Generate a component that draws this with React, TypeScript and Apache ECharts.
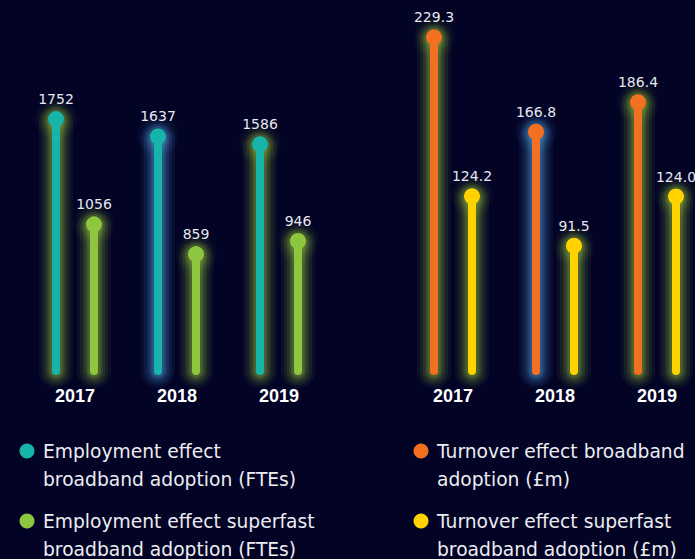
import React, { useEffect, useRef } from "react";
import * as echarts from "echarts";

const years = ["2017", "2018", "2019"];
const employmentBroadband = [1752, 1637, 1586];
const employmentSuperfast = [1056, 859, 946];
const turnoverBroadband = [229.3, 166.8, 186.4];
const turnoverSuperfast = [124.2, 91.5, 124.0];

const legendEmploymentBroadband = "Employment effect\nbroadband adoption (FTEs)";
const legendEmploymentSuperfast = "Employment effect superfast\nbroadband adoption (FTEs)";
const legendTurnoverBroadband = "Turnover effect broadband\nadoption (£m)";
const legendTurnoverSuperfast = "Turnover effect superfast\nbroadband adoption (£m)";

const TEAL = "#17b4aa";
const LIME = "#8dc63f";
const ORANGE = "#f37021";
const YELLOW = "#ffd200";
const BG = "#020325";
const GREEN_GLOW = "150,195,60";
const BLUE_GLOW = "85,165,230";
// glow per category for the broadband series (blue in 2018), superfast always green
const broadbandGlow = [GREEN_GLOW, BLUE_GLOW, GREEN_GLOW];
const superfastGlow = [GREEN_GLOW, GREEN_GLOW, GREEN_GLOW];
const glowLayers = [
  { pad: 13, a: 0.07 },
  { pad: 10, a: 0.09 },
  { pad: 7, a: 0.12 },
  { pad: 4.5, a: 0.16 },
  { pad: 2.5, a: 0.2 },
];

function makeSeries(name: string, values: number[], gridIndex: number, color: string, offset: number, decimals: number, glows: string[]) {
  return {
    name,
    type: "custom",
    xAxisIndex: gridIndex,
    yAxisIndex: gridIndex,
    clip: false,
    data: values.map((v, i) => [i, v]),
    renderItem: (params: any, api: any) => {
      const idx = api.value(0);
      const v = api.value(1);
      const top = api.coord([idx, v]);
      const base = api.coord([idx, 0]);
      const x = top[0] + offset;
      const glow = glows[idx % glows.length];
      const bottom = base[1] - 9;
      const children: any[] = [];
      glowLayers.forEach((g) => {
        const w = 8 + 2 * g.pad;
        children.push({
          type: "rect",
          shape: { x: x - w / 2, y: top[1] - g.pad, width: w, height: bottom - top[1] + 2 * g.pad, r: w / 2 },
          style: { fill: `rgba(${glow},${g.a})` },
        });
        children.push({
          type: "circle",
          shape: { cx: x, cy: top[1], r: 8 + g.pad },
          style: { fill: `rgba(${glow},${g.a * 0.6})` },
        });
      });
      children.push(
        {
          type: "rect",
          shape: { x: x - 4, y: top[1], width: 8, height: bottom - top[1], r: 4 },
          style: { fill: color },
        },
        {
          type: "circle",
          shape: { cx: x, cy: top[1], r: 8 },
          style: { fill: color },
        },
        {
          type: "text",
          x: x,
          y: top[1] - 20,
          style: {
            text: v.toFixed(decimals),
            fill: "#e8e8f0",
            fontSize: 14,
            fontFamily: "DejaVu Sans",
            align: "center",
            verticalAlign: "middle",
            textAlign: "center",
            textVerticalAlign: "middle",
          },
        }
      );
      return { type: "group", children };
    },
  };
}

function legendItem(cx: number, cy: number, color: string, text: string) {
  return [
    { type: "circle", shape: { cx, cy, r: 7.5 }, style: { fill: color } },
    {
      type: "text",
      x: cx + 16,
      y: cy - 14,
      style: {
        text,
        fill: "#ececf2",
        fontSize: 18.7,
        fontFamily: "DejaVu Sans",
        lineHeight: 28,
        align: "left",
        verticalAlign: "top",
        textAlign: "left",
        textVerticalAlign: "top",
      },
    },
  ];
}

export default function App() {
  const ref = useRef<HTMLDivElement>(null);
  useEffect(() => {
    document.body.style.margin = "0";
    const chart = echarts.init(ref.current!, null, { renderer: "svg" });
    const xAxisCommon = {
      type: "category",
      data: years,
      axisLine: { show: false },
      axisTick: { show: false },
      splitLine: { show: false },
      axisLabel: {
        color: "#ffffff",
        fontSize: 18,
        fontWeight: "bold",
        fontFamily: "Liberation Sans",
        margin: 3,
      },
    };
    chart.setOption({
      animation: false,
      backgroundColor: BG,
      grid: [
        { left: 24, width: 306, top: 6, bottom: 175, outerBoundsMode: "none" },
        { left: 402, width: 306, top: 6, bottom: 175, outerBoundsMode: "none" },
      ],
      xAxis: [
        { ...xAxisCommon, gridIndex: 0 },
        { ...xAxisCommon, gridIndex: 1 },
      ],
      yAxis: [
        { type: "value", gridIndex: 0, min: 0, max: 2500, show: false },
        { type: "value", gridIndex: 1, min: 0, max: 250, show: false },
      ],
      series: [
        makeSeries("Employment effect broadband adoption (FTEs)", employmentBroadband, 0, TEAL, -19, 0, broadbandGlow),
        makeSeries("Employment effect superfast broadband adoption (FTEs)", employmentSuperfast, 0, LIME, 19, 0, superfastGlow),
        makeSeries("Turnover effect broadband adoption (£m)", turnoverBroadband, 1, ORANGE, -19, 1, broadbandGlow),
        makeSeries("Turnover effect superfast broadband adoption (£m)", turnoverSuperfast, 1, YELLOW, 19, 1, superfastGlow),
      ],
      graphic: [
        ...legendItem(27, 451, TEAL, legendEmploymentBroadband),
        ...legendItem(27, 521, LIME, legendEmploymentSuperfast),
        ...legendItem(421, 451, ORANGE, legendTurnoverBroadband),
        ...legendItem(421, 521, YELLOW, legendTurnoverSuperfast),
      ],
    });
    return () => chart.dispose();
  }, []);
  return (
    <div
      ref={ref}
      style={{ position: "fixed", left: 0, top: 0, width: 695, height: 559, background: BG }}
    />
  );
}
